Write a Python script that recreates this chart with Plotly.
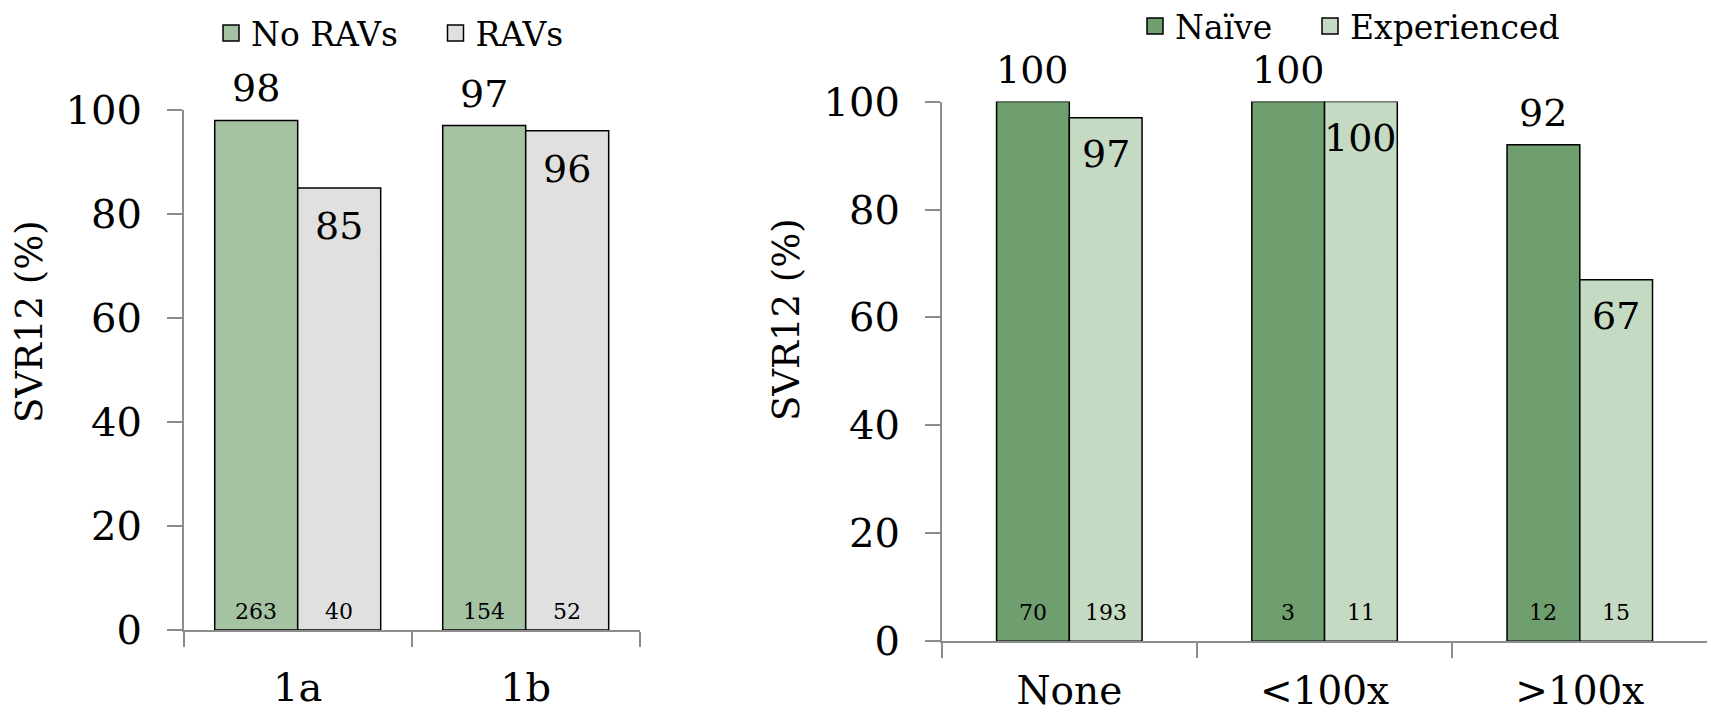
import plotly.graph_objects as go

# ---- data ----
geno_categories = ["1a", "1b"]
no_ravs_svr = [98, 97]
ravs_svr = [85, 96]
no_ravs_n = [263, 154]
ravs_n = [40, 52]

fold_categories = ["None", "<100x", ">100x"]
naive_svr = [100, 100, 92]
experienced_svr = [97, 100, 67]
naive_n = [70, 3, 12]
experienced_n = [193, 11, 15]

series_names_left = ["No RAVs", "RAVs"]
series_names_right = ["Naïve", "Experienced"]
y_title = "SVR12 (%)"

# ---- style ----
FONT = "DejaVu Serif"
C_NORAV = "#A5C3A3"
C_RAV = "#E0E0E0"
C_NAIVE = "#6F9F6E"
C_EXP = "#C5DAC3"
AXIS_GRAY = "#8C8C8C"
GAP_L = 0.272
GAP_R = 0.43
W, H = 1713, 719

fig = go.Figure()

w_l = (1 - GAP_L) / 2
w_r = (1 - GAP_R) / 2

def bar(x, y, color, xa, ya, name, width, offset):
    return go.Bar(
        x=x, y=y, name=name, marker=dict(color=color, line=dict(color="black", width=1.5)),
        xaxis=xa, yaxis=ya, width=width, offset=offset, showlegend=False, cliponaxis=False,
    )

fig.add_trace(bar(geno_categories, no_ravs_svr, C_NORAV, "x", "y", series_names_left[0], w_l, -w_l))
fig.add_trace(bar(geno_categories, ravs_svr, C_RAV, "x", "y", series_names_left[1], w_l, 0))
fig.add_trace(bar(fold_categories, naive_svr, C_NAIVE, "x2", "y2", series_names_right[0], w_r, -w_r))
fig.add_trace(bar(fold_categories, experienced_svr, C_EXP, "x2", "y2", series_names_right[1], w_r, 0))

# legend proxies (one legend per entry for exact placement)
legend_items = [
    (series_names_left[0], C_NORAV, "legend", "x", "y"),
    (series_names_left[1], C_RAV, "legend2", "x", "y"),
    (series_names_right[0], C_NAIVE, "legend3", "x2", "y2"),
    (series_names_right[1], C_EXP, "legend4", "x2", "y2"),
]
for name, color, leg, xa, ya in legend_items:
    fig.add_trace(go.Scatter(x=[None], y=[None], mode="markers", name=name, legend=leg,
                             xaxis=xa, yaxis=ya,
                             marker=dict(symbol="square", size=18, color=color,
                                         line=dict(color="black", width=1.5))))

annotations = []

def value_labels(vals, side, width, xref, yref, yshift):
    for i, v in enumerate(vals):
        annotations.append(dict(x=i + side * width / 2, y=v, xref=xref, yref=yref, text=str(v),
                                showarrow=False, yanchor="middle", yshift=yshift,
                                font=dict(family=FONT, size=38, color="black")))

value_labels(no_ravs_svr, -1, w_l, "x", "y", 32)
value_labels(ravs_svr, 1, w_l, "x", "y", -38)
value_labels(naive_svr, -1, w_r, "x2", "y2", 32)
value_labels(experienced_svr, 1, w_r, "x2", "y2", -36)

def counts(vals, side, width, xref, yref, yval):
    for i, v in enumerate(vals):
        annotations.append(dict(x=i + side * width / 2, y=yval, xref=xref, yref=yref, text=str(v),
                                showarrow=False, yanchor="middle",
                                font=dict(family=FONT, size=22, color="black")))

counts(no_ravs_n, -1, w_l, "x", "y", 3.5)
counts(ravs_n, 1, w_l, "x", "y", 3.5)
counts(naive_n, -1, w_r, "x2", "y2", 5.4)
counts(experienced_n, 1, w_r, "x2", "y2", 5.4)

# y titles
for xc, yc in [(29, 322), (786, 320)]:
    annotations.append(dict(x=xc / W, y=1 - yc / H, xref="paper", yref="paper", text=y_title,
                            textangle=-90, showarrow=False,
                            font=dict(family=FONT, size=37, color="black"),
                            xanchor="center", yanchor="middle"))

xax = dict(type="category", showline=True, linecolor=AXIS_GRAY, linewidth=1.5, ticks="outside",
           tickson="boundaries", ticklen=15, tickcolor=AXIS_GRAY, tickwidth=1.5,
           tickfont=dict(family=FONT, size=40, color="black"), showgrid=False, zeroline=False,
           ticklabelstandoff=21, automargin=False, fixedrange=True)
yax = dict(range=[0, 100], tickvals=[0, 20, 40, 60, 80, 100], showline=True, linecolor=AXIS_GRAY,
           linewidth=1.5, ticks="outside", ticklen=15, tickcolor=AXIS_GRAY, tickwidth=1.5,
           tickfont=dict(family=FONT, size=40, color="black"), showgrid=False, zeroline=False,
           ticklabelstandoff=17, automargin=False, fixedrange=True)

def leg(xpx, ypx):
    return dict(orientation="h", x=xpx / W, y=1 - ypx / H, xanchor="left", yanchor="middle",
                font=dict(family=FONT, size=33, color="black"), itemsizing="trace",
                bgcolor="rgba(0,0,0,0)")

fig.update_layout(
    width=W, height=H, margin=dict(l=0, r=0, t=0, b=0, autoexpand=False),
    paper_bgcolor="white", plot_bgcolor="white",
    barmode="overlay",
    xaxis=dict(xax, domain=[183.7 / W, 639.7 / W], anchor="y"),
    yaxis=dict(yax, domain=[(H - 630) / H, (H - 110) / H], anchor="x"),
    xaxis2=dict(xax, domain=[941.7 / W, 1707.4 / W], anchor="y2",
                ticklabelstandoff=14, tickfont=dict(family=FONT, size=39, color="black")),
    yaxis2=dict(yax, domain=[(H - 641.3) / H, (H - 101.6) / H], anchor="x2"),
    annotations=annotations,
    legend=leg(211, 33),
    legend2=leg(435.5, 33),
    legend3=leg(1135, 26),
    legend4=leg(1310, 26),
)

fig.write_html("out.html")
